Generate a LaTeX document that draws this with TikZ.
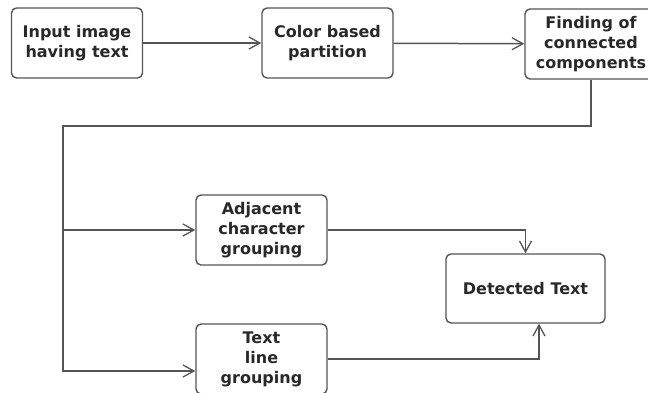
\documentclass[tikz,border=0pt]{standalone}
\usepackage{fontspec}
\setmainfont{DejaVu Sans}
\usetikzlibrary{arrows.meta}
\definecolor{linegray}{RGB}{85,85,85}
\definecolor{textgray}{RGB}{40,40,40}
\tikzset{
	every node/.style = {font=\bfseries\fontsize{16}{20}\selectfont, text=textgray},
	stage/.style = {draw=linegray, line width=1.4pt, rounded corners=5pt, align=center, minimum width=131pt, minimum height=70pt, inner sep=0pt},
	flow/.style = {draw=linegray, line width=1.5pt, -{Straight Barb[length=11pt,width=12pt,line width=1.3pt]}}
}

\begin{document}
\begin{tikzpicture}[x=1pt, y=-1pt]
		\useasboundingbox (0,0) rectangle (648,392);
		\clip (0,0) rectangle (648,392);
		% top row
		\node[stage] (input) at (77,43) {Input image\\having text};
		\node[stage] (partition) at (327.5,43) {Color based\\partition};
		\node[stage, minimum width=132pt] (components) at (591,44) {Finding of\\connected\\components};
		% grouping
		\node[stage] (adjacent) at (261.5,230) {Adjacent\\character\\grouping};
		\node[stage] (textline) at (261.5,359) {Text\\line\\grouping};
		% result
		\node[stage, minimum width=159pt, minimum height=69pt] (detected) at (525.5,288.5) {Detected Text};
		
		\coordinate (bend) at (63,126);
		\coordinate (foot) at (63,371);
		
		% arrows
		\draw[flow] (input) -- (partition);
		\draw[flow] (partition) -- (components);
		\draw[flow] (components.south) |- (bend) -- (foot) -- (foot -| textline.west);
		\draw[flow] (bend |- adjacent.west) -- (adjacent.west);
		\draw[flow] (adjacent.east) -| (detected.north);
		\draw[flow] (textline.east) -| ([xshift=13.5pt]detected.south);
	\end{tikzpicture}
\end{document}
